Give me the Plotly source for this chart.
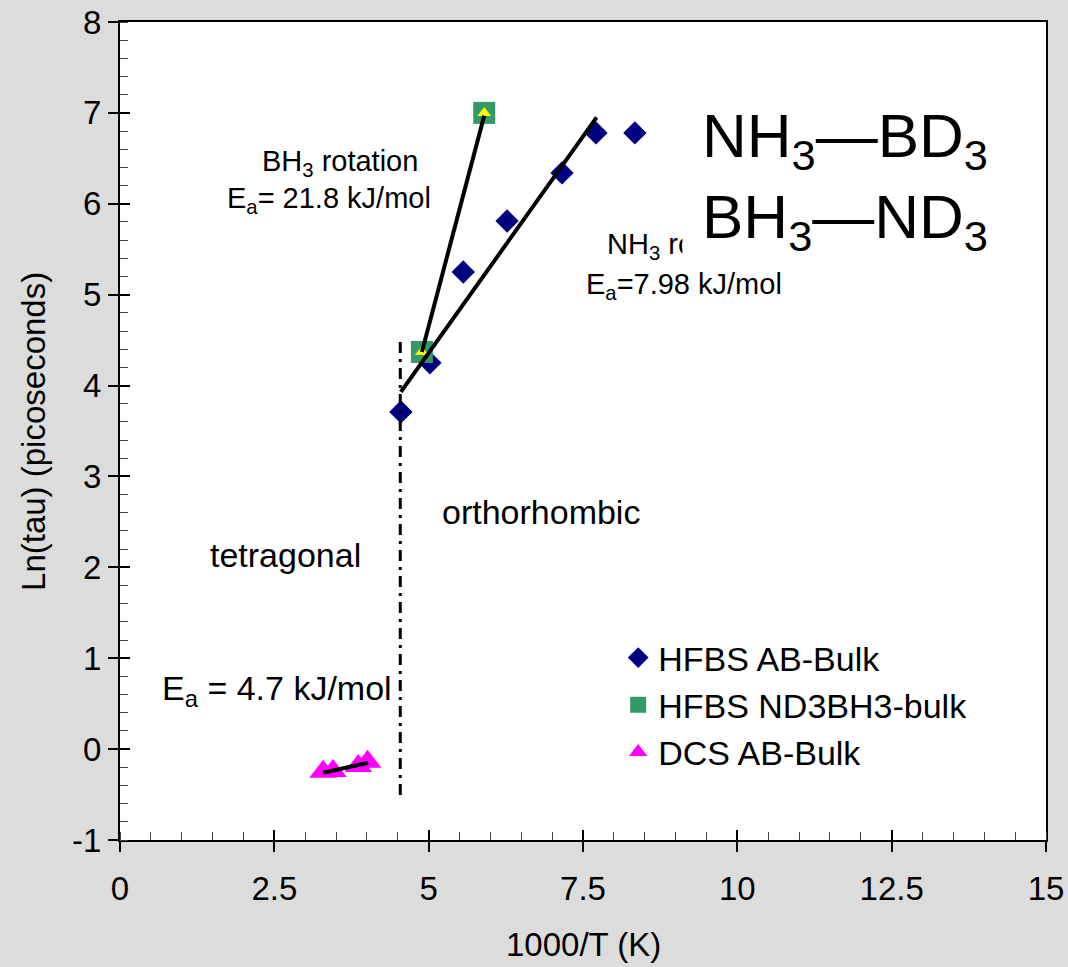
import plotly.graph_objects as go

# ---- data ----
hfbs_ab_x = [4.55, 5.02, 5.56, 6.27, 7.16, 7.71, 8.34]
hfbs_ab_y = [3.71, 4.25, 5.25, 5.81, 6.34, 6.78, 6.78]

hfbs_nd_x = [4.89, 5.90]
hfbs_nd_y = [4.37, 7.00]

dcs_x = [3.29, 3.45, 3.86, 4.01]
dcs_y = [-0.25, -0.24, -0.185, -0.14]

fit_bh3_x = [4.89, 5.90]
fit_bh3_y = [4.37, 6.97]
fit_nh3_x = [4.55, 7.72]
fit_nh3_y = [3.93, 6.95]
fit_dcs_x = [3.29, 4.02]
fit_dcs_y = [-0.26, -0.15]

phase_x = [4.54, 4.54]
phase_y = [4.48, -0.56]

x_ticks = [0, 2.5, 5, 7.5, 10, 12.5, 15]
x_tick_text = ["0", "2.5", "5", "7.5", "10", "12.5", "15"]
y_ticks = [-1, 0, 1, 2, 3, 4, 5, 6, 7, 8]
y_tick_text = ["-1", "0", "1", "2", "3", "4", "5", "6", "7", "8"]

FONT = "Liberation Sans, Arial, sans-serif"

fig = go.Figure()

fig.add_trace(go.Scatter(x=hfbs_ab_x, y=hfbs_ab_y, mode="markers", name="HFBS AB-Bulk",
                         marker=dict(symbol="diamond", size=18, color="#000080")))
fig.add_trace(go.Scatter(x=hfbs_nd_x, y=hfbs_nd_y, mode="markers", name="HFBS ND3BH3-bulk",
                         marker=dict(symbol="square", size=22, color="#339966")))
fig.add_trace(go.Scatter(x=hfbs_nd_x, y=hfbs_nd_y, mode="markers", showlegend=False,
                         marker=dict(symbol="triangle-up", size=12, color="#FFFF00")))
fig.add_trace(go.Scatter(x=dcs_x, y=dcs_y, mode="markers", name="DCS AB-Bulk",
                         marker=dict(symbol="triangle-up", size=24, color="#FF00FF")))

# fit lines (drawn on top of markers)
for fx, fy in [(fit_bh3_x, fit_bh3_y), (fit_nh3_x, fit_nh3_y), (fit_dcs_x, fit_dcs_y)]:
    fig.add_trace(go.Scatter(x=fx, y=fy, mode="lines", line=dict(color="black", width=4),
                             showlegend=False, hoverinfo="skip"))

# phase boundary
fig.add_trace(go.Scatter(x=phase_x, y=phase_y, mode="lines",
                         line=dict(color="black", width=3, dash="11px,6px,3px,6px"),
                         showlegend=False, hoverinfo="skip"))

# helper trace for crossing ticks axes
fig.add_trace(go.Scatter(x=[None], y=[None], xaxis="x2", yaxis="y2", showlegend=False,
                         hoverinfo="skip"))

axis_common = dict(showgrid=False, zeroline=False, automargin=False)

fig.update_layout(
    width=1068, height=967,
    margin=dict(l=120, r=22, t=22, b=127),
    paper_bgcolor="#DCDCDC",
    plot_bgcolor="white",
    font=dict(family=FONT, color="black", size=26),
    xaxis=dict(range=[0, 15], tickvals=x_ticks, ticktext=x_tick_text,
               ticks="outside", ticklen=10, tickwidth=1.5, tickcolor="black",
               showline=True, linecolor="black", linewidth=2, mirror=True,
               tickfont=dict(size=33), ticklabelstandoff=8,
               minor=dict(dtick=0.5, ticks="inside", ticklen=8, tickcolor="#444444", tickwidth=1),
               **axis_common),
    yaxis=dict(range=[-1, 8], tickvals=y_ticks, ticktext=y_tick_text,
               ticks="outside", ticklen=10, tickwidth=1.5, tickcolor="black",
               showline=True, linecolor="black", linewidth=2, mirror=True,
               tickfont=dict(size=33),
               minor=dict(dtick=0.2, ticks="inside", ticklen=8, tickcolor="#444444", tickwidth=1),
               **axis_common),
    xaxis2=dict(overlaying="x", matches="x", range=[0, 15], tickvals=x_ticks,
                ticks="inside", ticklen=10, tickwidth=1.5, tickcolor="black",
                showticklabels=False, showline=False, anchor="y2", **axis_common),
    yaxis2=dict(overlaying="y", matches="y", range=[-1, 8], tickvals=y_ticks,
                ticks="inside", ticklen=10, tickwidth=1.5, tickcolor="black",
                showticklabels=False, showline=False, anchor="x2", **axis_common),
    legend=dict(x=0.538, y=0.258, xanchor="left", yanchor="top",
                bgcolor="rgba(0,0,0,0)", font=dict(size=34), tracegroupgap=0,
                itemsizing="trace"),
)

ann = []
def A(text, x, y, size, xanchor="left", yanchor="middle", xref="x", yref="y", **kw):
    ann.append(dict(text=text, x=x, y=y, xref=xref, yref=yref, showarrow=False,
                    xanchor=xanchor, yanchor=yanchor,
                    font=dict(size=size, family=FONT, color="black"), **kw))

A("BH<sub>3</sub> rotation", 2.27, 6.45, 29)
A("E<sub>a</sub>= 21.8 kJ/mol", 1.70, 6.04, 29)
A("NH<sub>3</sub> rotation", 7.86, 5.54, 29)
A("E<sub>a</sub>=7.98 kJ/mol", 7.52, 5.10, 29)
A("orthorhombic", 5.18, 2.61, 34)
A("tetragonal", 1.43, 2.14, 34)
A("E<sub>a</sub> = 4.7 kJ/mol", 0.65, 0.65, 34)
# white text box behind the formula label (hides part of the NH3 label, as in the source)
A("&nbsp;", 9.10, 6.22, 10, width=360, height=165, bgcolor="white", borderpad=0)
A("NH<sub>3</sub>—BD<sub>3</sub><br>BH<sub>3</sub>—ND<sub>3</sub>", 9.40, 6.26, 62,
  align="left")
A("1000/T (K)", 0.5, -0.128, 33, xanchor="center", xref="paper", yref="paper")
A("Ln(tau) (picoseconds)", -0.094, 0.5, 33, xanchor="center", xref="paper", yref="paper",
  textangle=-90)

fig.update_layout(annotations=ann)

fig.write_html("out.html")
